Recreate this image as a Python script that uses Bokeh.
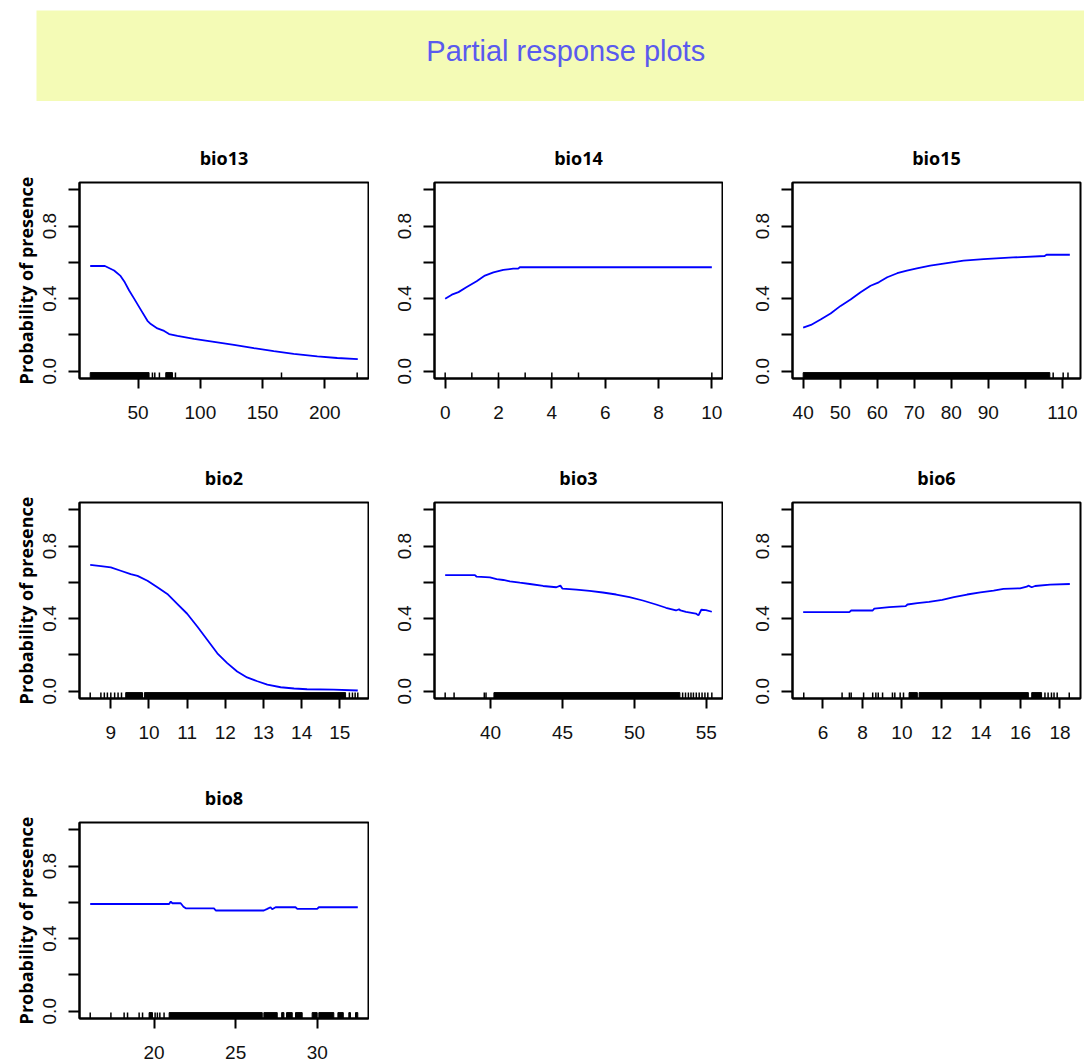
from bokeh.plotting import figure
from bokeh.models import Range1d, FixedTicker, Label, PrintfTickFormatter
from bokeh.layouts import column, row
from bokeh.embed import file_html
from bokeh.resources import INLINE

TITLE = "Partial response plots"
YLABEL = "Probability of presence"

# ---- data ----
bio13_x = [11.5, 23.3, 30.7, 35.6, 39.3, 42.8, 46.8, 51.6, 57.5, 60.2, 65.5, 70.9, 74.9, 81.6, 94.9, 111, 127, 143, 159, 175, 194, 210, 226.5]
bio13_y = [0.58, 0.58, 0.555, 0.527, 0.49, 0.445, 0.40, 0.345, 0.278, 0.26, 0.236, 0.222, 0.205, 0.195, 0.178, 0.162, 0.145, 0.127, 0.111, 0.096, 0.082, 0.073, 0.067]
bio13_rug = [61.5, 63.4, 67.1, 80.0, 165.2, 226.0]
bio13_bands = [(11.5, 58.8), (72.2, 77.6)]
bio13_ticks = [50, 100, 150, 200]
bio13_minor = []

bio14_x = [0, 0.25, 0.5, 0.81, 1.18, 1.49, 1.81, 2.18, 2.55, 2.74, 2.8, 10]
bio14_y = [0.40, 0.422, 0.436, 0.464, 0.496, 0.527, 0.545, 0.558, 0.565, 0.565, 0.573, 0.573]
bio14_rug = [0, 1, 2, 3, 4, 5, 10]
bio14_bands = []
bio14_ticks = [0, 2, 4, 6, 8, 10]
bio14_minor = []

bio15_x = [40, 42.1, 44.7, 47.4, 50.1, 52.8, 55.5, 58.2, 60.4, 62.7, 65.4, 68.0, 70.7, 74.3, 78.8, 83.3, 88.7, 96.7, 105.2, 105.7, 112]
bio15_y = [0.24, 0.255, 0.285, 0.318, 0.36, 0.395, 0.435, 0.471, 0.49, 0.518, 0.54, 0.555, 0.567, 0.582, 0.596, 0.609, 0.618, 0.627, 0.635, 0.642, 0.642]
bio15_rug = [107.5, 110.2, 111.5]
bio15_bands = [(40, 106.6)]
bio15_ticks = [40, 50, 60, 70, 80, 90, 110]
bio15_minor = [100]

bio2_x = [8.46, 8.74, 9.0, 9.26, 9.52, 9.70, 9.96, 10.22, 10.48, 10.74, 11.0, 11.27, 11.53, 11.79, 12.05, 12.31, 12.57, 12.84, 13.1, 13.45, 13.8, 14.14, 14.84, 15.47]
bio2_y = [0.696, 0.689, 0.682, 0.664, 0.645, 0.636, 0.609, 0.573, 0.536, 0.482, 0.427, 0.355, 0.282, 0.209, 0.155, 0.109, 0.076, 0.055, 0.036, 0.022, 0.015, 0.011, 0.009, 0.004]
bio2_rug = [8.46, 8.74, 8.83, 8.91, 9.0, 9.1, 9.19, 9.28, 15.25, 15.33, 15.4, 15.47]
bio2_bands = [(9.39, 9.83), (9.88, 15.15)]
bio2_ticks = [9, 10, 11, 12, 13, 14, 15]
bio2_minor = []

bio3_x = [36.84, 38.91, 39.03, 39.95, 40.42, 40.88, 41.34, 42.03, 42.73, 43.65, 44.57, 44.85, 45.0, 45.96, 46.88, 47.8, 48.73, 49.65, 50.58, 51.5, 52.19, 52.89, 53.1, 53.2, 53.58, 54.27, 54.45, 54.65, 54.97, 55.38]
bio3_y = [0.64, 0.64, 0.631, 0.627, 0.618, 0.613, 0.605, 0.598, 0.591, 0.58, 0.573, 0.582, 0.565, 0.56, 0.553, 0.544, 0.533, 0.518, 0.5, 0.478, 0.46, 0.445, 0.452, 0.445, 0.437, 0.428, 0.418, 0.449, 0.447, 0.438]
bio3_rug = [36.84, 37.46, 39.56, 39.68, 53.35, 53.55, 53.75, 53.93, 54.1, 54.3, 54.5, 54.7, 54.9, 55.1, 55.38]
bio3_bands = [(40.23, 53.16)]
bio3_ticks = [40, 45, 50, 55]
bio3_minor = []

bio6_x = [5.0, 7.34, 7.43, 8.52, 8.6, 9.36, 10.19, 10.28, 10.78, 11.37, 12.04, 12.63, 13.3, 13.97, 14.64, 15.14, 15.98, 16.32, 16.4, 16.57, 16.74, 17.5, 18.5]
bio6_y = [0.436, 0.436, 0.445, 0.445, 0.455, 0.464, 0.469, 0.478, 0.485, 0.493, 0.504, 0.518, 0.533, 0.545, 0.555, 0.564, 0.567, 0.576, 0.582, 0.573, 0.58, 0.587, 0.591]
bio6_rug = [5.03, 6.97, 7.34, 7.43, 8.06, 8.52, 8.68, 8.8, 9.02, 9.52, 9.64, 9.91, 10.08, 17.24, 17.4, 17.57, 17.7, 17.86, 18.47]
bio6_bands = [(10.36, 10.78), (10.87, 16.4), (16.57, 17.07)]
bio6_ticks = [6, 8, 10, 12, 14, 16, 18]
bio6_minor = []

bio8_x = [16.08, 20.92, 21.02, 21.12, 21.63, 21.8, 21.94, 23.67, 23.78, 26.73, 26.94, 27.14, 27.24, 27.45, 28.67, 28.78, 30.0, 30.1, 32.49]
bio8_y = [0.591, 0.591, 0.604, 0.595, 0.595, 0.576, 0.567, 0.567, 0.555, 0.555, 0.564, 0.573, 0.562, 0.573, 0.573, 0.564, 0.564, 0.573, 0.573]
bio8_rug = [16.08, 17.35, 18.16, 18.37, 19.08, 19.29, 20.06, 20.2, 20.35, 20.61]
bio8_bands = [(19.69, 19.9), (20.92, 26.63), (26.73, 27.55), (27.82, 27.96), (28.12, 28.47), (28.67, 29.08), (29.69, 30.0), (30.1, 31.02), (31.27, 31.6), (31.94, 32.04), (32.35, 32.49)]
bio8_ticks = [20, 25, 30]
bio8_minor = []

y_ticks = [0.0, 0.4, 0.8]
y_minor = [0.2, 0.6, 1.0]

PANELS = [
    ("bio13", bio13_x, bio13_y, bio13_rug, bio13_bands, bio13_ticks, bio13_minor),
    ("bio14", bio14_x, bio14_y, bio14_rug, bio14_bands, bio14_ticks, bio14_minor),
    ("bio15", bio15_x, bio15_y, bio15_rug, bio15_bands, bio15_ticks, bio15_minor),
    ("bio2", bio2_x, bio2_y, bio2_rug, bio2_bands, bio2_ticks, bio2_minor),
    ("bio3", bio3_x, bio3_y, bio3_rug, bio3_bands, bio3_ticks, bio3_minor),
    ("bio6", bio6_x, bio6_y, bio6_rug, bio6_bands, bio6_ticks, bio6_minor),
    ("bio8", bio8_x, bio8_y, bio8_rug, bio8_bands, bio8_ticks, bio8_minor),
]

LABEL_FONT = "Liberation Sans"
BOLD_FONT = "Open Sans"
LEFTS = [79, 65, 69]
RIGHTS = [1, 1, 4]
FRAME_WS = [289, 288, 288]
FRAME_H = 196
TOP = 81
H = 320


def make_panel(idx, name, xs, ys, rug, bands, ticks, minor):
    col = idx % 3
    xmin, xmax = min(xs), max(xs)
    pad = 0.04 * (xmax - xmin)
    y0, y1 = -0.04, 1.04
    left = LEFTS[col]
    p = figure(width=left + FRAME_WS[col] + RIGHTS[col], height=H,
               x_range=Range1d(xmin - pad, xmax + pad), y_range=Range1d(y0, y1),
               output_backend="svg", toolbar_location=None,
               min_border_left=left, min_border_right=RIGHTS[col], min_border_top=TOP,
               min_border_bottom=H - TOP - FRAME_H, title=name)
    p.title.align = "center"
    p.title.text_font = BOLD_FONT
    p.title.text_font_style = "bold"
    p.title.text_font_size = "18px"
    p.title.text_color = "#000000"
    p.title.standoff = 25
    p.grid.visible = False
    p.outline_line_color = "#000000"
    p.outline_line_width = 2
    p.background_fill_color = "white"
    p.border_fill_color = "white"

    # rug
    rug_h = 0.03 * (y1 - y0)
    if rug:
        p.segment(x0=rug, y0=[y0] * len(rug), x1=rug, y1=[y0 + rug_h] * len(rug),
                  line_color="black", line_width=1.5)
    if bands:
        p.quad(left=[b[0] for b in bands], right=[b[1] for b in bands],
               bottom=[y0] * len(bands), top=[y0 + rug_h] * len(bands),
               fill_color="black", line_color="black", line_width=1)

    p.line(xs, ys, line_color="#0000ff", line_width=1.8)

    for ax in (p.xaxis[0], p.yaxis[0]):
        ax.axis_line_color = "black"
        ax.axis_line_width = 2
        ax.major_tick_line_color = "black"
        ax.major_tick_line_width = 2
        ax.minor_tick_line_color = "black"
        ax.minor_tick_line_width = 2
        ax.major_tick_in = 0
        ax.minor_tick_in = 0
        ax.major_label_text_font = LABEL_FONT
        ax.major_label_text_font_size = "19px"
        ax.major_label_text_color = "#111111"

    xa = p.xaxis[0]
    xa.ticker = FixedTicker(ticks=ticks, minor_ticks=minor)
    xa.major_tick_out = 10
    xa.minor_tick_out = 10
    xa.major_label_standoff = 17

    ya = p.yaxis[0]
    ya.ticker = FixedTicker(ticks=y_ticks, minor_ticks=y_minor)
    ya.formatter = PrintfTickFormatter(format="%.1f")
    ya.major_tick_out = 11
    ya.minor_tick_out = 11
    ya.major_label_orientation = "vertical"
    ya.major_label_standoff = 12
    if col == 0:
        ya.axis_label = YLABEL
        ya.axis_label_text_font = BOLD_FONT
        ya.axis_label_text_font_style = "bold"
        ya.axis_label_text_font_size = "18px"
        ya.axis_label_text_color = "#000000"
        ya.axis_label_standoff = 3
    return p


panels = [make_panel(i, *args) for i, args in enumerate(PANELS)]

banner = figure(width=1084, height=101, x_range=Range1d(0, 1), y_range=Range1d(0, 1),
                output_backend="svg", toolbar_location=None, x_axis_type=None, y_axis_type=None,
                min_border_left=36, min_border_right=0, min_border_top=10, min_border_bottom=0)
banner.background_fill_color = "#f4fbb6"
banner.border_fill_color = "white"
banner.outline_line_color = None
banner.grid.visible = False
banner.add_layout(Label(x=0.505, y=0.56, text=TITLE, text_align="center", text_baseline="middle",
                        text_font=LABEL_FONT, text_font_size="29px", text_color="#5a5aee"))

layout = column(banner, row(*panels[0:3]), row(*panels[3:6]), row(panels[6]))

with open("out.html", "w") as f:
    f.write(file_html(layout, INLINE))
